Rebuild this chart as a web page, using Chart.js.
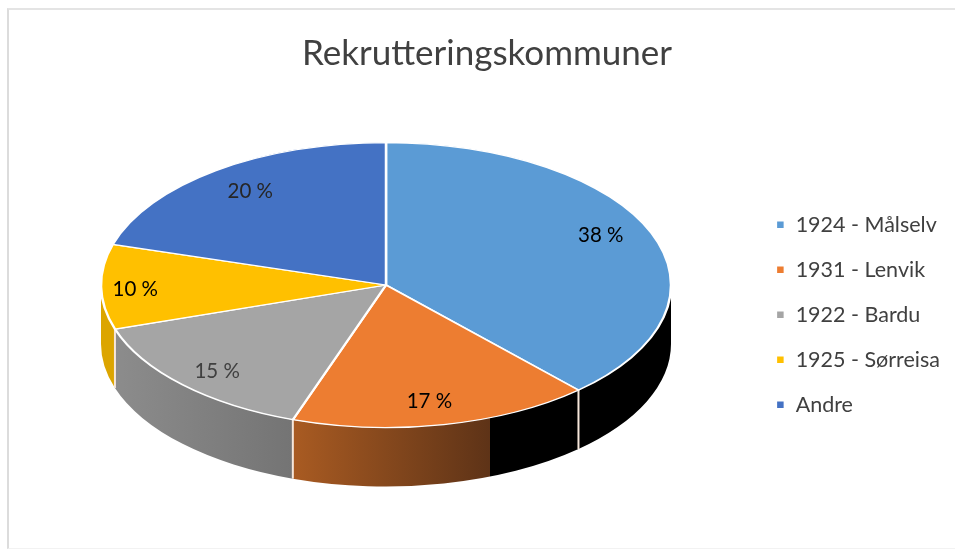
<!DOCTYPE html>
<html lang="no">
<head>
<meta charset="utf-8">
<title>Rekrutteringskommuner</title>
<script src="https://cdn.jsdelivr.net/npm/chart.js@4"></script>
<style>
    html, body { margin: 0; background: #fff; }
    #ramme { position: absolute; left: 7px; top: 8px; width: 948px; height: 538px; border-left: 2px solid #dcdcdc; border-top: 2px solid #e4e4e4; border-bottom: 1px solid #f2f2f2; }
    canvas { position: absolute; left: 0; top: 0; }
</style>
</head>
<body>
<div id="ramme"></div>
<canvas id="kakeChart" width="955" height="549"></canvas>
<script>
const kommuner = ['1924 - Målselv', '1931 - Lenvik', '1922 - Bardu', '1925 - Sørreisa', 'Andre'];
const andeler = [38.2, 17.1, 14.7, 9.6, 20.4];
const farger = ['#5b9bd5', '#ed7d31', '#a5a5a5', '#ffc000', '#4472c4'];
const etikettFarger = ['#000', '#000', '#404040', '#000', '#262626'];

// Sideveggen: hver skive har egne gradientstopp [posisjon, farge]
const veggFarger = [
    [[0, '#000'], [1, '#000']],
    [[0, '#a95b22'], [0.69, '#5e3317'], [0.69, '#000'], [1, '#000']],
    [[0, '#8c8c8c'], [1, '#747474']],
    [[0, '#dca500'], [1, '#dca500']],
    [[0, '#3a5f9f'], [1, '#3a5f9f']]
];

// Små justeringer av etikettene i forhold til skivens midtpunkt
const etikettJustering = [[-3, -7], [-4, 2], [-2, 5], [-17, 3], [4, 0]];

const KAKE_X = 386;
const KAKE_Y = 285;
const RADIUS = 285;
const FLATTING = 0.5;
const DYBDE = 59;
const ETIKETT_RADIUS = 0.82;

const kake3d = {
    id: 'kake3d',
    beforeDatasetsDraw(chart) {
        const ctx = chart.ctx;
        const buer = chart.getDatasetMeta(0).data;
        const ry = RADIUS * FLATTING;

        buer.forEach((bue, i) => {
            const a0 = Math.max(bue.startAngle, 0);
            const a1 = Math.min(bue.endAngle, Math.PI);
            if (a1 <= a0) return;

            const x0 = KAKE_X + RADIUS * Math.cos(a0);
            const x1 = KAKE_X + RADIUS * Math.cos(a1);
            const gradient = ctx.createLinearGradient(Math.min(x0, x1), 0, Math.max(x0, x1), 0);
            veggFarger[i].forEach(s => gradient.addColorStop(s[0], s[1]));

            ctx.beginPath();
            ctx.ellipse(KAKE_X, KAKE_Y, RADIUS, ry, 0, a0, a1);
            ctx.ellipse(KAKE_X, KAKE_Y + DYBDE, RADIUS, ry, 0, a1, a0, true);
            ctx.closePath();
            ctx.fillStyle = gradient;
            ctx.fill();
        });

        // Loddrette skillelinjer i veggen
        buer.forEach(bue => {
            if (bue.startAngle <= 0 || bue.startAngle >= Math.PI) return;
            const x = KAKE_X + RADIUS * Math.cos(bue.startAngle);
            const y = KAKE_Y + ry * Math.sin(bue.startAngle);
            ctx.beginPath();
            ctx.moveTo(x, y);
            ctx.lineTo(x, y + DYBDE);
            ctx.strokeStyle = '#f6e6da';
            ctx.lineWidth = 2;
            ctx.stroke();
        });

        // Selve kaken tegnes flatklemt
        ctx.save();
        ctx.translate(KAKE_X, KAKE_Y);
        ctx.scale(1, FLATTING);
        ctx.translate(-buer[0].x, -buer[0].y);
    },
    afterDatasetsDraw(chart) {
        const ctx = chart.ctx;
        ctx.restore();

        ctx.save();
        ctx.font = '20.5px Lato';
        ctx.textAlign = 'center';
        ctx.textBaseline = 'middle';
        chart.getDatasetMeta(0).data.forEach((bue, i) => {
            const midt = (bue.startAngle + bue.endAngle) / 2;
            const x = KAKE_X + RADIUS * ETIKETT_RADIUS * Math.cos(midt) + etikettJustering[i][0];
            const y = KAKE_Y + RADIUS * FLATTING * ETIKETT_RADIUS * Math.sin(midt) + etikettJustering[i][1];
            ctx.fillStyle = etikettFarger[i];
            ctx.fillText(Math.round(andeler[i]) + ' %', x, y);
        });
        ctx.restore();
    }
};

new Chart(document.getElementById('kakeChart'), {
    type: 'pie',
    data: {
        labels: kommuner,
        datasets: [{
            data: andeler,
            backgroundColor: farger,
            borderColor: '#fff',
            borderWidth: 2.5,
            radius: RADIUS,
            clip: false
        }]
    },
    options: {
        responsive: false,
        animation: false,
        layout: {
            padding: { left: 24, right: 5, bottom: 110 }
        },
        plugins: {
            title: {
                display: true,
                text: 'Rekrutteringskommuner',
                color: '#404040',
                font: { family: 'Lato', size: 35, weight: 'normal' },
                padding: { top: 33, bottom: 4 }
            },
            legend: {
                position: 'right',
                align: 'end',
                labels: {
                    boxWidth: 9,
                    boxHeight: 9,
                    padding: 23.5,
                    color: '#404040',
                    font: { family: 'Lato', size: 21.5 }
                }
            },
            tooltip: { enabled: false }
        }
    },
    plugins: [kake3d]
});
</script>
</body>
</html>
